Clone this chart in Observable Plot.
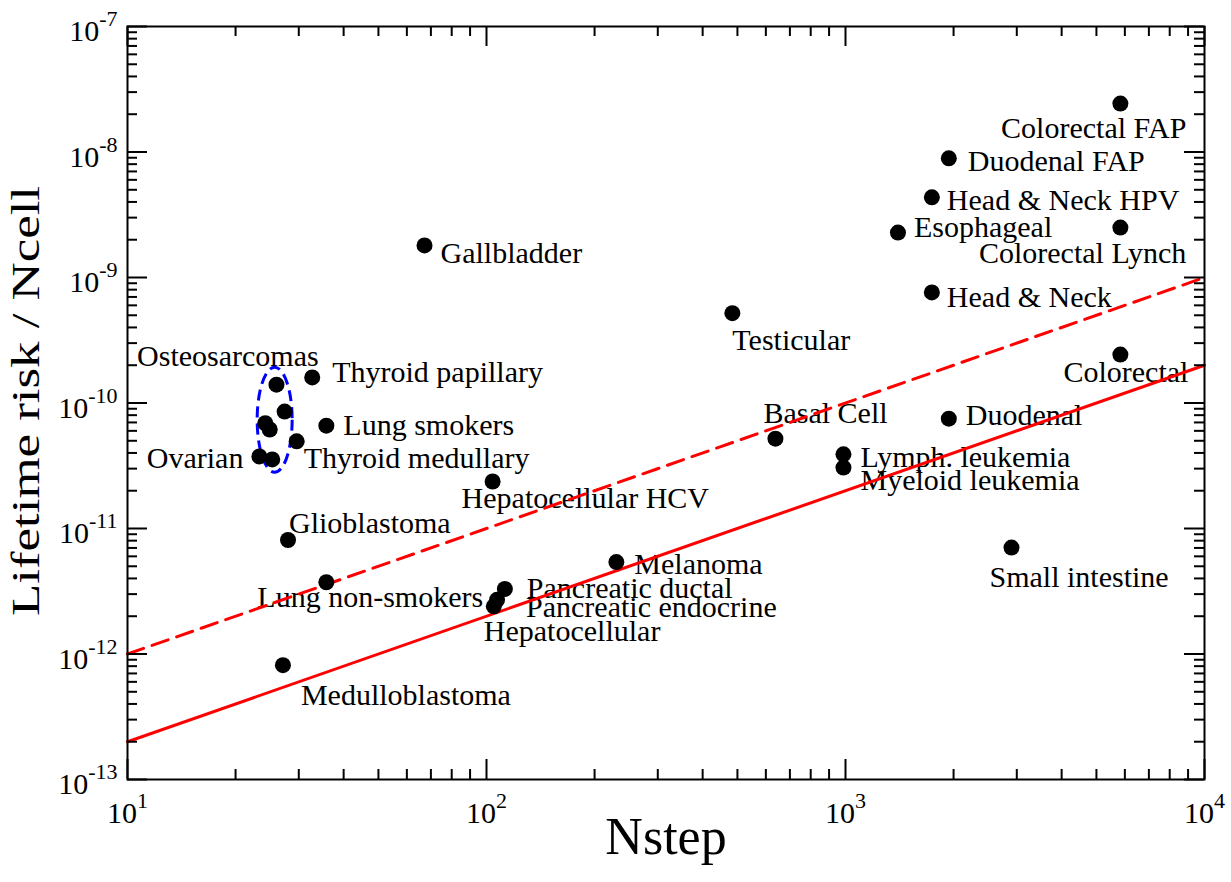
<!DOCTYPE html>
<html><head><meta charset="utf-8">
<script src="https://cdn.jsdelivr.net/npm/d3@7"></script>
<script src="https://cdn.jsdelivr.net/npm/@observablehq/plot@0.6"></script>
<style>body{margin:0;background:#fff} svg{display:block}</style>
</head><body><div id="chart"></div>
<script>
// ---- data ----
const cancerNames = ["Colorectal FAP","Duodenal FAP","Head & Neck HPV","Esophageal","Colorectal Lynch","Gallbladder","Head & Neck","Testicular","Colorectal","Thyroid papillary","Lung smokers","Ovarian","Thyroid medullary","Hepatocellular HCV","Basal Cell","Duodenal","Lymph. leukemia","Myeloid leukemia","Glioblastoma","Lung non-smokers","Medulloblastoma","Pancreatic ductal","Pancreatic endocrine","Hepatocellular","Melanoma","Small intestine"];
const cancerNstep = [5830,1940,1740,1400,5830,67.2,1740,484,5830,32.7,35.8,23.3,29.6,104,638,1940,987,987,28.0,35.8,27.1,112.5,107,104.8,230,2900];
const cancerRisk = [2.43e-8,8.9e-9,4.35e-9,2.28e-9,2.5e-9,1.8e-9,7.6e-10,5.2e-10,2.43e-10,1.6e-10,6.6e-11,3.75e-11,4.95e-11,2.37e-11,5.2e-11,7.5e-11,3.9e-11,3.06e-11,8.1e-12,3.73e-12,8.15e-13,3.3e-12,2.7e-12,2.4e-12,5.4e-12,7.05e-12];
const osteoNstep = [26.0,27.4,24.2,24.9,25.3];
const osteoRisk = [1.40e-10,8.55e-11,6.9e-11,6.15e-11,3.55e-11];
const osteoGroup = [{name:"Osteosarcomas", nstep:25.7, risk:7.36e-11}];
const solidLine = [{nstep:10, risk:2e-13},{nstep:1e4, risk:2e-10}];
const dashedLine = [{nstep:10, risk:1e-12},{nstep:1e4, risk:1e-9}];
const xMajorTicks = [10,100,1000,10000];
const xTickExponents = ["1","2","3","4"];
const yMajorTicks = [1e-13,1e-12,1e-11,1e-10,1e-9,1e-8,1e-7];
const yTickExponents = ["-13","-12","-11","-10","-9","-8","-7"];
const xTitle = "Nstep";
const yTitle = "Lifetime risk / Ncell";

// ---- layout / styling (not data) ----
const labelLayout = {
 "Colorectal FAP": [66, 25, "end"],
 "Duodenal FAP": [19, 3, "start"],
 "Head & Neck HPV": [15, 3, "start"],
 "Esophageal": [16, -5, "start"],
 "Colorectal Lynch": [66, 26, "end"],
 "Gallbladder": [16, 8, "start"],
 "Head & Neck": [15, 5, "start"],
 "Testicular": [0, 27, "start"],
 "Colorectal": [68, 18, "end"],
 "Thyroid papillary": [20, -5, "start"],
 "Lung smokers": [17, 0, "start"],
 "Ovarian": [-16, 2, "end"],
 "Thyroid medullary": [7, 17, "start"],
 "Hepatocellular HCV": [-31, 17, "start"],
 "Basal Cell": [-12, -25, "start"],
 "Duodenal": [17, -3, "start"],
 "Lymph. leukemia": [17, 3, "start"],
 "Myeloid leukemia": [17, 13, "start"],
 "Glioblastoma": [1, -17, "start"],
 "Lung non-smokers": [-69, 15, "start"],
 "Medulloblastoma": [18, 30, "start"],
 "Pancreatic ductal": [22, -1, "start"],
 "Pancreatic endocrine": [29, 8, "start"],
 "Hepatocellular": [-10, 25, "start"],
 "Melanoma": [18, 2, "start"],
 "Small intestine": [-22, 30, "start"],
 "Osteosarcomas": [44, -63, "end"]
};

const cancers = cancerNames.map((name, i) => ({name, nstep: cancerNstep[i], risk: cancerRisk[i]}));
const osteo = osteoNstep.map((n, i) => ({name: "Osteosarcomas", nstep: n, risk: osteoRisk[i]}));
const allPoints = cancers.concat(osteo);

const W = 1231, H = 882, mL = 127, mR = 27, mT = 26, mB = 103;
const innerW = W - mL - mR, innerH = H - mT - mB;
const majorLen = 20, minorLen = 10;

const xMinor = [], yMinor = [];
for (const d of [10,100,1000]) for (let k = 2; k <= 9; k++) xMinor.push(d * k);
for (const d of [1e-13,1e-12,1e-11,1e-10,1e-9,1e-8]) for (let k = 2; k <= 9; k++) yMinor.push(d * k);

const xExp = new Map(xMajorTicks.map((t, i) => [t, xTickExponents[i]]));
const yExp = new Map(yMajorTicks.map((t, i) => [t, yTickExponents[i]]));

// dashed ellipse drawn as a custom symbol
const ellipseSymbol = {
  draw(ctx) {
    const rx = 17.5, ry = 52.5, k = 0.5523;
    ctx.moveTo(rx, 0);
    ctx.bezierCurveTo(rx, ry * k, rx * k, ry, 0, ry);
    ctx.bezierCurveTo(-rx * k, ry, -rx, ry * k, -rx, 0);
    ctx.bezierCurveTo(-rx, -ry * k, -rx * k, -ry, 0, -ry);
    ctx.bezierCurveTo(rx * k, -ry, rx, -ry * k, rx, 0);
    ctx.closePath();
  }
};

const labelItems = cancers.concat(osteoGroup);
const labelMarks = labelItems.map(d => {
  const [dx, dy, anchor] = labelLayout[d.name];
  return Plot.text([d], {x: "nstep", y: "risk", text: "name", dx, dy, textAnchor: anchor, fontSize: 30, fill: "black"});
});

const tick = {stroke: "black", strokeWidth: 2};

const plot = Plot.plot({
  width: W, height: H,
  marginLeft: mL, marginRight: mR, marginTop: mT, marginBottom: mB,
  style: {fontFamily: "'Liberation Serif', 'Times New Roman', serif", background: "white", color: "black"},
  x: {type: "log", domain: [10, 1e4]},
  y: {type: "log", domain: [1e-13, 1e-7]},
  marks: [
    ...labelMarks,
    Plot.line(dashedLine, {x: "nstep", y: "risk", stroke: "#ff0000", strokeWidth: 3, strokeDasharray: "17,9"}),
    Plot.line(solidLine, {x: "nstep", y: "risk", stroke: "#ff0000", strokeWidth: 3}),
    Plot.dot(osteoGroup, {x: "nstep", y: "risk", symbol: ellipseSymbol, r: 1, fill: "none", stroke: "#0000ff", strokeWidth: 3, strokeDasharray: "11,6"}),
    Plot.dot(allPoints, {x: "nstep", y: "risk", r: 8, fill: "black"}),
    // ticks on all four sides, pointing inward
    Plot.tickX(xMajorTicks, {x: d => d, insetTop: innerH - majorLen, ...tick}),
    Plot.tickX(xMajorTicks, {x: d => d, insetBottom: innerH - majorLen, ...tick}),
    Plot.tickX(xMinor, {x: d => d, insetTop: innerH - minorLen, ...tick}),
    Plot.tickX(xMinor, {x: d => d, insetBottom: innerH - minorLen, ...tick}),
    Plot.tickY(yMajorTicks, {y: d => d, insetRight: innerW - majorLen, ...tick}),
    Plot.tickY(yMajorTicks, {y: d => d, insetLeft: innerW - majorLen, ...tick}),
    Plot.tickY(yMinor, {y: d => d, insetRight: innerW - minorLen, ...tick}),
    Plot.tickY(yMinor, {y: d => d, insetLeft: innerW - minorLen, ...tick}),
    Plot.axisX(xMajorTicks, {tickSize: 0, tickPadding: 22, fontSize: 30, label: null, tickFormat: d => "10|" + xExp.get(d)}),
    Plot.axisY(yMajorTicks, {tickSize: 0, tickPadding: 10, fontSize: 30, label: null, dy: 5, tickFormat: d => "10|" + yExp.get(d)}),
    Plot.text([xTitle], {frameAnchor: "bottom", dy: 74, fontSize: 52, text: d => d, fill: "black"}),
    Plot.text([yTitle], {frameAnchor: "left", rotate: -90, dx: -101, dy: 213, textAnchor: "start", fontSize: 40, text: d => d, fill: "black"}),
    Plot.frame({stroke: "black", strokeWidth: 2})
  ]
});

// superscript exponents on the tick labels
const NS = "http://www.w3.org/2000/svg";
plot.querySelectorAll("text").forEach(t => {
  const s = t.textContent;
  if (s.includes("|") && t.children.length === 0) {
    const [base, exp] = s.split("|");
    t.textContent = base;
    t.setAttribute("font-size", "30");
    t.style.fontSize = "30px";
    const ts = document.createElementNS(NS, "tspan");
    ts.setAttribute("dy", "-15");
    ts.style.fontSize = "22px";
    ts.textContent = exp;
    t.appendChild(ts);
  }
  if (s === yTitle) {
    t.setAttribute("textLength", "430");
    t.setAttribute("lengthAdjust", "spacingAndGlyphs");
  }
});
document.getElementById("chart").appendChild(plot);
</script>
</body></html>
